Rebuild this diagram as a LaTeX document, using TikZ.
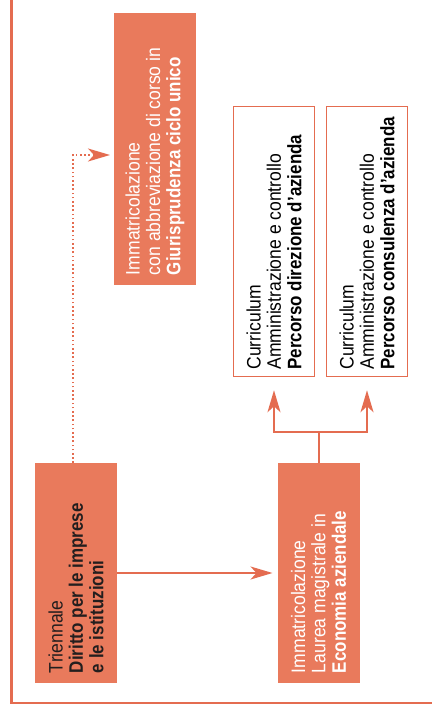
\documentclass[tikz,border=0pt]{standalone}
\usepackage{fontspec}
\setmainfont{Liberation Sans}[FakeStretch=0.9, BoldFeatures={FakeStretch=0.87}]
\usepackage{graphicx}
\usetikzlibrary{arrows.meta}
\definecolor{boxfill}{RGB}{233,122,92}
\definecolor{lineor}{RGB}{228,108,80}
\definecolor{darktext}{RGB}{35,30,30}
\newcommand{\rtext}[2]{\rotatebox{90}{\parbox{#1}{\fontsize{19.5}{20.4}\selectfont\raggedright #2}}}
\begin{document}
\begin{tikzpicture}[x=1pt,y=-1pt,
  orbox/.style={draw=none, fill=boxfill, inner sep=0pt, outer sep=0pt, minimum width=82pt},
  whbox/.style={draw=lineor, line width=1.5pt, fill=white, inner sep=0pt, minimum width=81pt, text=black},
  conn/.style={draw=lineor, line width=2pt},
  arrowend/.style={-{Stealth[length=22pt,width=13pt,inset=6pt]}},
  dotconn/.style={draw=lineor, line width=1.6pt, dash pattern=on 1.6pt off 2.6pt},
]
\useasboundingbox (0,0) rectangle (431,720);
\fill[white] (0,0) rectangle (431,720);
% outer frame
\draw[lineor, line width=2.6pt] (11.5,-10) -- (11.5,703) -- (445,703);

% boxes
\node[orbox, minimum height=220pt, text=darktext] (tri) at (76,573)
  {\rtext{200pt}{\mbox{Triennale}\\\mbox{\textbf{Diritto per le imprese}}\\\mbox{\textbf{e le istituzioni}}}};
\node[orbox, minimum height=220pt, text=white] (imm) at (318.5,573)
  {\rtext{200pt}{\mbox{Immatricolazione}\\\mbox{Laurea magistrale in}\\\mbox{\textbf{Economia aziendale}}}};
\node[orbox, minimum height=272pt, text=white] (giur) at (155,149)
  {\rtext{252pt}{\mbox{Immatricolazione}\\\mbox{con abbreviazione di corso in}\\\mbox{\textbf{Giurisprudenza ciclo unico}}}};
\node[whbox, minimum height=270pt] (cur1) at (274,241.5)
  {\rtext{256pt}{\mbox{Curriculum}\\\mbox{Amministrazione e controllo}\\\mbox{\textbf{Percorso direzione d’azienda}}}};
\node[whbox, minimum height=270pt] (cur2) at (367,241.5)
  {\rtext{256pt}{\mbox{Curriculum}\\\mbox{Amministrazione e controllo}\\\mbox{\textbf{Percorso consulenza d’azienda}}}};

% connectors
\draw[conn, arrowend, shorten >=5pt] (tri.east) -- (imm.west);
\draw[dotconn, arrowend, shorten >=4pt] ([xshift=-3pt]tri.north) |- ([yshift=-6pt]giur.west);
\coordinate (br) at ([yshift=31pt]imm.north);
\draw[conn] (imm.north) -- (br);
\draw[conn, arrowend, shorten >=13pt] (br) -| (cur1.south);
\draw[conn, arrowend, shorten >=13pt] (br) -| (cur2.south);
\end{tikzpicture}
\end{document}
